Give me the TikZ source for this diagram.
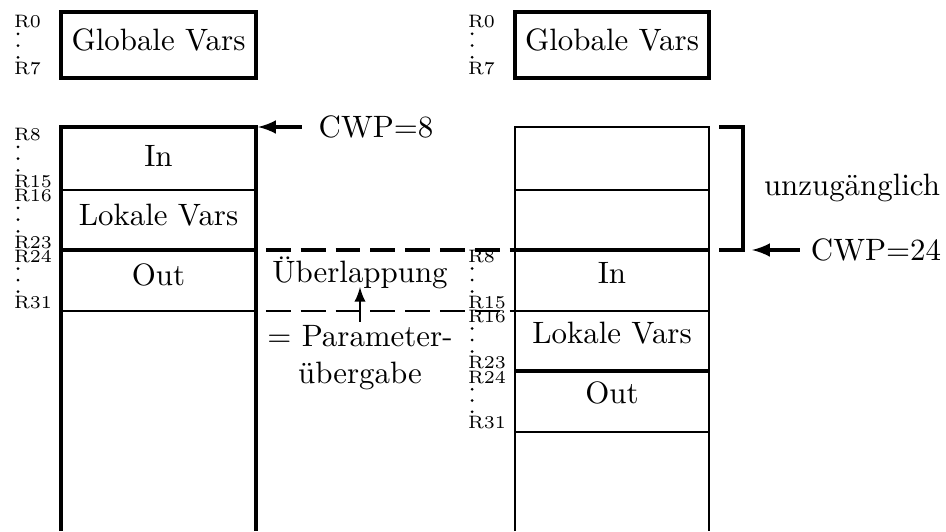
\documentclass[tikz,border=0pt]{standalone}
\usetikzlibrary{calc}

% register range: name, x, y first, y last, first no., last no.
\newcommand{\rgrp}[6]{%
  \node[reg] (#1a) at (#2,#3) {R#5};
  \node[reg] (#1b) at (#2,#4) {R#6};
  \foreach \k [evaluate=\k as \f using \k/4] in {1,2,3} { \fill ($(#1a.west)!\f!(#1b.west)+(5,0)$) circle (0.5pt); }
}

\begin{document}
\begin{tikzpicture}[x=0.3333pt, y=-0.3333pt, line width=0.7pt,
  font=\fontsize{10.3}{12.4}\selectfont,
  reg/.style={font=\fontsize{6}{7}\selectfont, inner sep=0pt, anchor=west},
  wd/.style={line width=1.05pt},
  dsh/.style={dash pattern=on 8.3pt off 3.3pt, dash phase=8.3pt}]
\useasboundingbox (0,0) rectangle (946,531);
% global registers
\draw[wd] (61,12) rectangle (256,78);
\draw[wd] (515,12) rectangle (709,78);
\node (glob1) at (158.5,40) {Globale Vars};
\node (glob2) at (612,40) {Globale Vars};
\rgrp{g1}{13}{22}{69}{0}{7}
\rgrp{g2}{467}{22}{69}{0}{7}
% window CWP=8
\draw[wd] (61,531) |- (256,127) -- (256,531);
\draw (61,190) -- (256,190); \draw (61,311) -- (256,311);
\draw[wd] (61,250) -- (256,250);
\node (in1) at (158.5,156) {In};
\node (lok1) at (158.5,215) {Lokale Vars};
\node (out1) at (158.5,275) {Out};
\rgrp{a1}{13}{135}{182}{8}{15}
\rgrp{b1}{13}{196}{243}{16}{23}
\rgrp{c1}{13}{257}{303}{24}{31}
% window CWP=24
\draw (515,531) |- (709,127) -- (709,531);
\foreach \y in {190,311,432} { \draw (515,\y) -- (709,\y); }
\draw[wd] (515,250) -- (709,250); \draw[wd] (515,371) -- (709,371);
\node (in2) at (612,273) {In};
\node (lok2) at (612,333) {Lokale Vars};
\node (out2) at (612,393) {Out};
\rgrp{a2}{467}{257}{303}{8}{15}
\rgrp{b2}{467}{317}{363}{16}{23}
\rgrp{c2}{467}{378}{423}{24}{31}
% overlap
\draw[wd, dsh] (256,250) -- (515,250);
\draw[dsh] (256,311) -- (515,311);
\node (ovl) at (360,273) {Überlappung};
\node[align=center, inner sep=1pt] (par) at (360,358) {= Parameter-\\übergabe};
\coordinate (ovlp) at (360,287);
\draw[-latex] (par) -- (ovlp);
% pointers
\draw[wd] (719,127) -| (743,250) -- (719,250);
\node (unz) at (852,188) {unzugänglich};
\node (cwp8) at (376,127) {CWP=8};
\node (cwp24) at (876,250) {CWP=24};
\coordinate (top1) at (258,127);
\coordinate (brk) at (752,250);
\draw[wd, -latex, shorten <=2pt] (cwp8) -- (top1);
\draw[wd, -latex] (cwp24) -- (brk);
\end{tikzpicture}
\end{document}
